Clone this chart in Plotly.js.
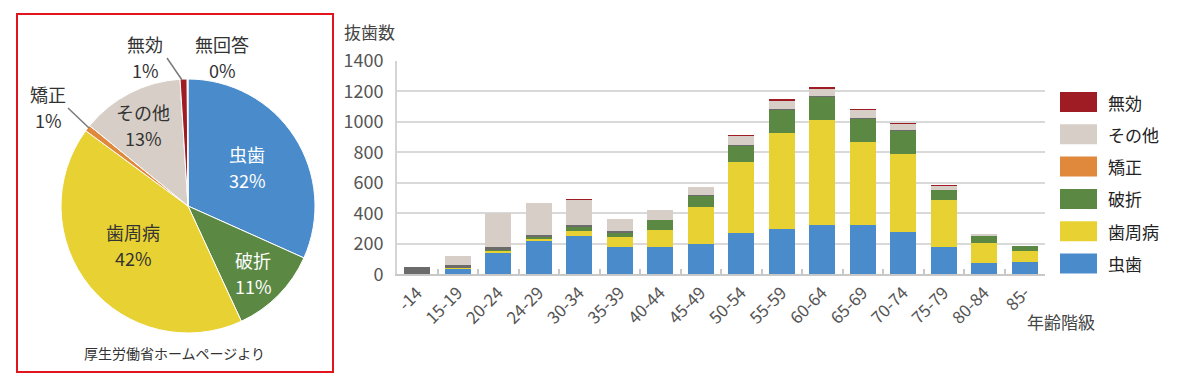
<!DOCTYPE html>
<html><head><meta charset="utf-8">
<script src="https://cdn.plot.ly/plotly-3.0.1.min.js"></script>
<style>body{margin:0;background:#fff}#chart{width:1200px;height:382px}</style>
</head><body><div id="chart"></div>
<script>
// ---- Pie data ----
const pieLabels = ['虫歯', '破折', '歯周病', '矯正', 'その他', '無効', '無回答'];
const pieValues = [31.7, 11.4, 42.0, 0.8, 13.1, 0.9, 0.1];
const pieColors = ['#4a8bcb', '#5b8944', '#e8d233', '#e0883c', '#d7cfc7', '#a01c24', '#cccccc'];

// ---- Bar data ----
const ageGroups = ['-14','15-19','20-24','24-29','30-34','35-39','40-44','45-49','50-54','55-59','60-64','65-69','70-74','75-79','80-84','85-'];
const mushiba   = [5, 38, 140, 218, 252, 182, 178, 200, 270, 295, 320, 320, 275, 178, 73, 80];
const shishubyo = [0, 2, 12, 12, 35, 60, 113, 238, 463, 632, 690, 550, 513, 308, 132, 75];
const hasetsu   = [0, 3, 8, 15, 25, 30, 62, 78, 107, 148, 155, 150, 150, 65, 45, 28];
const kyosei    = [45, 15, 22, 10, 10, 10, 5, 3, 5, 10, 5, 5, 5, 3, 2, 1];
const sonota    = [0, 60, 218, 210, 168, 78, 62, 50, 63, 50, 45, 52, 45, 27, 10, 3];
const mukou     = [0, 0, 2, 3, 3, 3, 2, 5, 3, 12, 10, 5, 2, 3, 5, 0];

const seriesNames  = ['虫歯', '歯周病', '破折', '矯正', 'その他', '無効'];
const seriesData   = [mushiba, shishubyo, hasetsu, kyosei, sonota, mukou];
const seriesColors = ['#4a8bcb', '#e8d233', '#5b8944', '#6b6b6b', '#d7cfc7', '#a01c24'];
const legendColors = ['#4a8bcb', '#e8d233', '#5b8944', '#e0883c', '#d7cfc7', '#a01c24'];

const W = 1200, H = 382;
const px = x => x / W;
const py = y => 1 - y / H;
const FONT = '"Noto Sans CJK JP", "Noto Sans", sans-serif';

const traces = [];
traces.push({
  type: 'pie', labels: pieLabels, values: pieValues, sort: false,
  direction: 'clockwise', rotation: 0,
  marker: {colors: pieColors, line: {color: '#ffffff', width: 1}},
  textinfo: 'none', hoverinfo: 'label+percent', showlegend: false,
  domain: {x: [px(61), px(315)], y: [py(333), py(79)]}
});
seriesNames.forEach((n, i) => {
  traces.push({
    type: 'bar', name: n, x: ageGroups, y: seriesData[i],
    marker: {color: seriesColors[i]}, showlegend: false,
    xaxis: 'x', yaxis: 'y'
  });
});

const sum = pieValues.reduce((a, b) => a + b, 0);
const pct = v => Math.round(v / sum * 100) + '%';
// label anchor positions (pixels) for each pie slice: [x, y of name line, color]
const pieLabelPos = [[247, 154, '#ffffff'], [253, 260, '#ffffff'], [133, 232, '#333333'],
                     [48, 94, '#333333'], [143, 112, '#333333'], [145, 44, '#333333'], [222, 44, '#333333']];
const annotations = [];
pieLabels.forEach((l, i) => {
  const p = pieLabelPos[i];
  annotations.push({xref: 'paper', yref: 'paper', x: px(p[0]), y: py(p[1]), showarrow: false,
    text: l, font: {family: FONT, size: 18, color: p[2]}, xanchor: 'center', yanchor: 'middle'});
  annotations.push({xref: 'paper', yref: 'paper', x: px(p[0]), y: py(p[1] + 26), showarrow: false,
    text: pct(pieValues[i]), font: {family: FONT, size: 18, color: p[2]}, xanchor: 'center', yanchor: 'middle'});
});
annotations.push({xref: 'paper', yref: 'paper', x: px(174), y: py(353), showarrow: false,
  text: '厚生労働省ホームページより', font: {family: FONT, size: 14, color: '#333'}, xanchor: 'center', yanchor: 'middle'});
annotations.push({xref: 'paper', yref: 'paper', x: px(342), y: py(31), showarrow: false,
  text: '抜歯数', font: {family: FONT, size: 17, color: '#444'}, xanchor: 'left', yanchor: 'middle'});
annotations.push({xref: 'paper', yref: 'paper', x: px(1061), y: py(321), showarrow: false,
  text: '年齢階級', font: {family: FONT, size: 17, color: '#444'}, xanchor: 'center', yanchor: 'middle'});

const shapes = [
  {type: 'rect', xref: 'paper', yref: 'paper', x0: px(17), x1: px(333), y0: py(372), y1: py(14),
   line: {color: '#e2141e', width: 2}},
  {type: 'line', xref: 'paper', yref: 'paper', x0: px(68), y0: py(108), x1: px(89), y1: py(128),
   line: {color: '#7a7a7a', width: 1.5}},
  {type: 'line', xref: 'paper', yref: 'paper', x0: px(167), y0: py(58), x1: px(182), y1: py(80),
   line: {color: '#7a7a7a', width: 1.5}}
];
// custom legend (top: 無効 ... bottom: 虫歯)
const legendOrder = [5, 4, 3, 2, 1, 0];
legendOrder.forEach((si, row) => {
  const cy = 102 + row * 32.3;
  shapes.push({type: 'rect', xref: 'paper', yref: 'paper', x0: px(1060), x1: px(1097),
    y0: py(cy + 10), y1: py(cy - 10), fillcolor: legendColors[si], line: {width: 0}});
  annotations.push({xref: 'paper', yref: 'paper', x: px(1106), y: py(cy), showarrow: false,
    text: seriesNames[si], font: {family: FONT, size: 17, color: '#222'}, xanchor: 'left', yanchor: 'middle'});
});

const layout = {
  width: W, height: H, margin: {l: 0, r: 0, t: 0, b: 0},
  paper_bgcolor: '#fff', plot_bgcolor: '#fff',
  font: {family: FONT, color: '#444'},
  barmode: 'stack', bargap: 0.36, showlegend: false,
  xaxis: {domain: [px(397), px(1045)], type: 'category', tickangle: -45,
    tickfont: {family: FONT, size: 17, color: '#555'}, showgrid: false,
    showline: true, linecolor: '#c8c8c8', linewidth: 2,
    ticks: 'inside', tickson: 'boundaries', ticklen: 5, tickcolor: '#c8c8c8', tickwidth: 2, anchor: 'y'},
  yaxis: {domain: [py(274.3), py(60.7)], range: [0, 1400], dtick: 200,
    gridcolor: '#d9d9d9', gridwidth: 2, zeroline: false,
    showline: true, linecolor: '#d4d4d4', linewidth: 2,
    tickfont: {family: FONT, size: 18, color: '#555'}, ticklabelstandoff: 8, anchor: 'x'},
  annotations: annotations, shapes: shapes
};
Plotly.newPlot('chart', traces, layout, {displayModeBar: false, staticPlot: true});
</script></body></html>
